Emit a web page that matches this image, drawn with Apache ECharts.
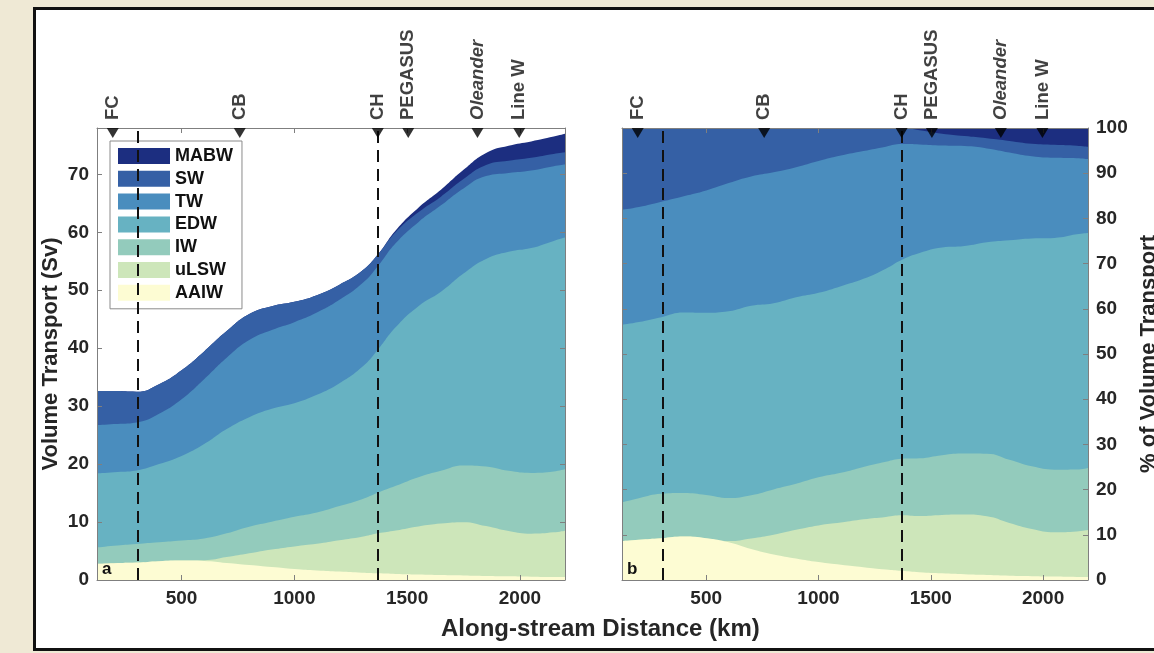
<!DOCTYPE html>
<html>
<head>
<meta charset="utf-8">
<script src="https://cdn.jsdelivr.net/npm/echarts@6/dist/echarts.min.js"></script>
<style>
  html, body { margin: 0; padding: 0; background: #efe9d5; overflow: hidden; }
  #frame { position: absolute; left: 33px; top: 7px; width: 1140px; height: 638px; background: #fff; border: 3px solid #111; }
  #chart { position: absolute; left: 0; top: 0; width: 1154px; height: 653px; }
</style>
</head>
<body>
<div id="frame"></div>
<div id="chart"></div>
<script>
// along-stream distance (km) of each sample
var distance = [125, 200, 300, 400, 500, 600, 700, 800, 900, 1000, 1100, 1200, 1300, 1370, 1450, 1550, 1650, 1750, 1850, 1950, 2050, 2150, 2200];
// transport per water mass (Sv), bottom to top
var AAIW = [2.8, 2.9, 3.0, 3.25, 3.35, 3.3, 2.95, 2.6, 2.25, 1.9, 1.65, 1.45, 1.25, 1.15, 1.05, 0.95, 0.85, 0.78, 0.7, 0.64, 0.58, 0.52, 0.5];
var uLSW = [0, 0, 0, 0, 0, 0.1, 1.0, 2.0, 3.0, 3.9, 4.6, 5.4, 6.2, 6.9, 7.5, 8.3, 8.9, 9.2, 8.6, 7.8, 7.4, 7.7, 8.0];
var IW = [2.8, 3.0, 3.2, 3.25, 3.45, 3.75, 4.1, 4.6, 4.8, 5.1, 5.4, 5.9, 6.5, 7.0, 7.7, 8.5, 9.1, 9.8, 10.3, 10.4, 10.5, 10.5, 10.6];
var EDW = [12.8, 12.7, 12.7, 13.5, 14.6, 16.3, 18.0, 18.9, 19.5, 19.6, 20.3, 21.2, 22.8, 24.7, 27.4, 29.5, 30.9, 33.1, 35.8, 37.8, 38.8, 39.8, 40.0];
var TW = [8.3, 8.3, 8.3, 8.7, 9.8, 11.2, 12.3, 13.3, 13.6, 14.0, 14.2, 14.4, 14.4, 14.4, 14.5, 14.5, 14.9, 14.7, 14.3, 13.6, 13.4, 12.9, 12.6];
var SW = [5.9, 5.7, 5.3, 5.1, 5.0, 4.8, 4.6, 4.5, 4.1, 3.5, 3.0, 2.6, 2.2, 2.0, 1.9, 1.7, 1.5, 1.6, 1.9, 2.1, 2.2, 2.1, 2.1];
var MABW = [0, 0, 0, 0, 0, 0, 0, 0, 0, 0, 0, 0, 0, 0, 0.3, 0.8, 1.2, 1.6, 2.1, 2.6, 2.8, 3.0, 3.2];

var layerNames = ["AAIW", "uLSW", "IW", "EDW", "TW", "SW", "MABW"];
var layerColors = ["#fdfcd3", "#cde6ba", "#93cbbc", "#67b2c2", "#4a8dbe", "#3560a5", "#1c2e80"];

// sections along the path
var stationNames = ["FC", "CB", "CH", "PEGASUS", "Oleander", "Line W"];
var stationKm = [195, 758, 1370, 1505, 1812, 1997];
var dashedKm = [305, 1370];

var xTicks = [500, 1000, 1500, 2000];
var yTicksA = [0, 10, 20, 30, 40, 50, 60, 70];
var yTicksB = [0, 10, 20, 30, 40, 50, 60, 70, 80, 90, 100];

(function () {
  var myChart = echarts.init(document.getElementById("chart"));
  var font = "'Liberation Sans', Arial, sans-serif";
  var axisColor = "#7f7f7f";
  var layers = [AAIW, uLSW, IW, EDW, TW, SW, MABW];

  // cumulative top of each layer, and the column total
  var tops = [];
  layers.forEach(function (layer, k) {
    tops.push(layer.map(function (v, i) {
      return v + (k > 0 ? tops[k - 1][i] : 0);
    }));
  });
  var totals = tops[tops.length - 1];

  function xAxisOf(grid, top) {
    return {
      type: "value", gridIndex: grid, position: top ? "top" : "bottom",
      min: 125, max: 2200, z: 10,
      axisLine: { onZero: false, lineStyle: { color: axisColor, width: 1 } },
      axisTick: { inside: true, length: 5, customValues: xTicks, lineStyle: { color: axisColor } },
      axisLabel: {
        show: !top, customValues: xTicks, margin: 9,
        formatter: function (v) { return String(v); },
        color: "#262626", fontSize: 19, fontWeight: "bold", fontFamily: font
      },
      splitLine: { show: false }
    };
  }
  function yAxisOf(grid, right, max, ticks, labels, name) {
    return {
      type: "value", gridIndex: grid, position: right ? "right" : "left",
      min: 0, max: max, z: 10,
      name: name || "", nameLocation: "middle", nameRotate: 90,
      nameGap: right ? 50 : 35,
      nameTextStyle: { color: "#262626", fontSize: 22, fontWeight: "bold", fontFamily: font },
      axisLine: { show: true, onZero: false, lineStyle: { color: axisColor, width: 1 } },
      axisTick: { show: true, inside: true, length: 5, customValues: ticks, lineStyle: { color: axisColor } },
      axisLabel: {
        show: labels, customValues: ticks, margin: 8,
        formatter: function (v) { return String(v); },
        color: "#262626", fontSize: 19, fontWeight: "bold", fontFamily: font
      },
      splitLine: { show: false }
    };
  }

  var series = [];
  [0, 1].forEach(function (p) {
    var yIndex = p === 0 ? 0 : 3;
    // top layer first so each lower boundary paints over the one above it
    for (var k = layers.length - 1; k >= 0; k--) {
      series.push({
        name: layerNames[k],
        type: "line",
        xAxisIndex: p * 2,
        yAxisIndex: yIndex,
        smooth: 0.5,
        symbol: "none",
        silent: true,
        lineStyle: { width: 0 },
        itemStyle: { color: layerColors[k] },
        areaStyle: { color: layerColors[k], opacity: 1, origin: "start" },
        data: distance.map(function (d, i) {
          var v = p === 0 ? tops[k][i] : tops[k][i] / totals[i] * 100;
          return [d, v];
        })
      });
    }
    series.push({
      name: "stations",
      type: "scatter",
      xAxisIndex: p * 2,
      yAxisIndex: yIndex,
      clip: false,
      z: 10,
      symbol: "triangle",
      symbolRotate: 180,
      symbolSize: [12, 10],
      symbolOffset: [0, 5],
      itemStyle: { color: "#000" },
      label: {
        show: true, position: "top", rotate: 90, align: "left", verticalAlign: "middle",
        distance: 8, formatter: "{b}",
        color: "#111", fontSize: 18.5, fontWeight: "bold", fontFamily: font
      },
      markLine: {
        silent: true, symbol: ["none", "none"], animation: false,
        label: { show: false },
        lineStyle: { type: [12, 7], color: "#111", width: 2 },
        data: dashedKm.map(function (k) { return { xAxis: k }; })
      },
      data: stationKm.map(function (k, i) {
        return {
          name: stationNames[i],
          value: [k, p === 0 ? 78 : 100],
          label: { fontStyle: stationNames[i] === "Oleander" ? "italic" : "normal" }
        };
      })
    });
  });

  var option = {
    animation: false,
    backgroundColor: "transparent",
    textStyle: { fontFamily: font },
    grid: [
      { left: 97, top: 128, width: 468, height: 452, outerBoundsMode: "none" },
      { left: 622, top: 128, width: 466, height: 452, outerBoundsMode: "none" }
    ],
    legend: {
      data: ["MABW", "SW", "TW", "EDW", "IW", "uLSW", "AAIW"],
      orient: "vertical",
      left: 110, top: 141,
      icon: "rect",
      itemWidth: 52, itemHeight: 16, itemGap: 4.8,
      padding: [6, 9, 7, 8],
      backgroundColor: "#fff",
      borderColor: "#8a8a8a", borderWidth: 1,
      textStyle: { color: "#111", fontSize: 18, lineHeight: 16, fontWeight: "bold", fontFamily: font },
      selectedMode: false
    },
    xAxis: [xAxisOf(0, false), xAxisOf(0, true), xAxisOf(1, false), xAxisOf(1, true)],
    yAxis: [
      yAxisOf(0, false, 78, yTicksA, true, "Volume Transport (Sv)"),
      yAxisOf(0, true, 78, yTicksA, false),
      yAxisOf(1, false, 100, yTicksB, false),
      yAxisOf(1, true, 100, yTicksB, true, "% of Volume Transport")
    ],
    graphic: [
      { type: "text", left: 102, top: 561, z: 20, style: { text: "a", fill: "#111", font: "bold 17px " + font } },
      { type: "text", left: 627, top: 561, z: 20, style: { text: "b", fill: "#111", font: "bold 17px " + font } },
      { type: "text", left: 441, top: 617, z: 20, style: { text: "Along-stream Distance (km)", fill: "#262626", font: "bold 24px " + font } }
    ],
    series: series
  };
  myChart.setOption(option);
  window.addEventListener("resize", function () {
    myChart.resize();
  });
})();
</script>
</body>
</html>
